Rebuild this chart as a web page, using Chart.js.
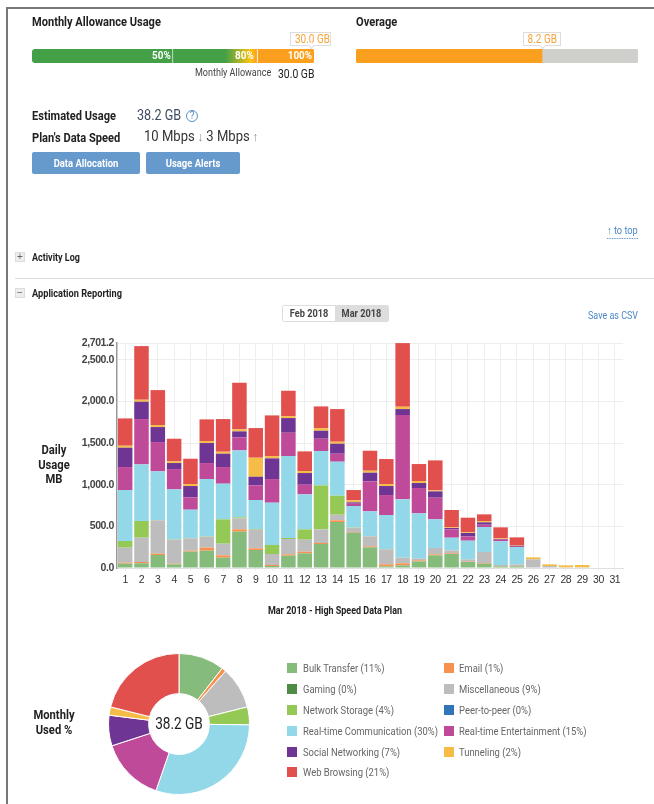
<!DOCTYPE html>
<html>
<head>
<meta charset="utf-8">
<title>Application Reporting</title>
<script src="https://cdn.jsdelivr.net/npm/chart.js@4"></script>
<style>
  html, body { margin: 0; padding: 0; background: #fff; }
  #page { position: relative; width: 654px; height: 804px; overflow: hidden; font-family: "Roboto", sans-serif; color: #222; filter: blur(0.35px); }
  #frame { position: absolute; left: 6px; top: 7px; width: 660px; height: 810px; border: 2px solid #777; box-sizing: border-box; }
  canvas { position: absolute; }
  /* the original font is a condensed one, squeeze Roboto to fit */
  .t { position: absolute; white-space: nowrap; line-height: 14px; transform: scaleX(var(--s, 0.82)); transform-origin: left center; }
  .c { transform-origin: center center; text-align: center; }
  .b { font-weight: bold; }
  .h { font-size: 13.5px; font-weight: bold; }
  .pct { color: #fff; font-size: 11px; font-weight: bold; top: 49px; --s: 0.9; transform-origin: right center; }
  .tip { position: absolute; top: 32px; height: 14px; border: 1px solid #ddd; box-sizing: border-box; background: #fff; }
  .tip::after { content: ""; position: absolute; left: 50%; bottom: -3px; width: 4px; height: 4px; margin-left: -2px; background: #fff; border-right: 1px solid #ddd; border-bottom: 1px solid #ddd; transform: rotate(45deg); }
  .tip .t { left: 0; right: 0; top: -1px; color: #f9a33b; font-size: 12.5px; --s: 0.8; }
  .btn { position: absolute; top: 152px; height: 22px; background: #6699cc; border-radius: 2px; }
  .btn .t { left: 0; right: 0; top: 4px; color: #fff; font-size: 11.5px; font-weight: bold; }
  .sq { position: absolute; width: 10px; height: 10px; left: 15px; background: #eee; border: 1px solid #ddd; box-sizing: border-box; color: #666; font: 10px/8px "Liberation Sans", sans-serif; text-align: center; }
  .side { left: 14px; width: 80px; font-size: 13.5px; font-weight: bold; line-height: 14.5px; --s: 0.83; }
  .swatch { position: absolute; width: 10px; height: 10px; }
  .leg { color: #666; font-size: 11.5px; }
</style>
</head>
<body>
<div id="page">
  <div id="frame"></div>

  <div class="t h" style="left:32px;top:14px">Monthly Allowance Usage</div>
  <div class="t h" style="left:356px;top:14px">Overage</div>
  <div class="tip" style="left:290px;width:41px"><div class="t c">30.0 GB</div></div>
  <div class="tip" style="left:523px;width:38px"><div class="t c">8.2 GB</div></div>
  <canvas id="gaugeAllowance" width="282" height="14" style="left:32px;top:49px"></canvas>
  <canvas id="gaugeOverage" width="282" height="14" style="left:356px;top:49px"></canvas>
  <div class="t pct" style="right:483px">50%</div>
  <div class="t pct" style="right:400px">80%</div>
  <div class="t pct" style="right:342px">100%</div>
  <div class="t" style="left:195px;top:66px;font-size:11px;color:#444">Monthly Allowance</div>
  <div class="t" style="left:278px;top:67px;font-size:13px;--s:0.8">30.0 GB</div>

  <div class="t h" style="left:32px;top:108px">Estimated Usage</div>
  <div class="t" style="left:137px;top:108px;font-size:14px;color:#3d4b5f;--s:0.9">38.2 GB</div>
  <div style="position:absolute;left:186px;top:110px;width:10px;height:10px;border:1px solid #5a8fc9;border-radius:50%;color:#5a8fc9;font-size:10px;line-height:10px;text-align:center">?</div>
  <div class="t h" style="left:32px;top:130px">Plan's Data Speed</div>
  <div class="t" style="left:144px;top:130px;font-size:14.5px;color:#333;--s:0.9">10 Mbps<span style="color:#888;font-size:13px"> ↓ </span>3 Mbps<span style="color:#888;font-size:13px"> ↑</span></div>
  <div class="btn" style="left:32px;width:108px"><div class="t c">Data Allocation</div></div>
  <div class="btn" style="left:146px;width:94px"><div class="t c">Usage Alerts</div></div>

  <div class="t" style="left:607px;top:224px;font-size:11px;color:#4d86c6;border-bottom:1px dotted #4d86c6;--s:0.84">↑ to top</div>
  <div class="sq" style="top:252px">+</div>
  <div class="t b" style="left:32px;top:250px;font-size:11.5px;--s:0.78">Activity Log</div>
  <div style="position:absolute;left:15px;top:278px;width:639px;height:1px;background:#ddd"></div>
  <div class="sq" style="top:288px">−</div>
  <div class="t b" style="left:32px;top:286px;font-size:11.5px;--s:0.8">Application Reporting</div>

  <div style="position:absolute;left:282px;top:305px;width:107px;height:17px;border:1px solid #ddd;box-sizing:border-box;border-radius:2px;background:#ddd"></div>
  <div style="position:absolute;left:283px;top:306px;width:52px;height:15px;background:#fff"></div>
  <div class="t b c" style="left:283px;top:306px;width:52px;font-size:11.5px;color:#444;--s:0.8">Feb 2018</div>
  <div class="t b c" style="left:335px;top:306px;width:53px;font-size:11.5px;color:#444;--s:0.8">Mar 2018</div>
  <div class="t" style="left:588px;top:308px;font-size:11.5px;color:#4d86c6;--s:0.78">Save as CSV</div>

  <div class="t c side" style="top:442px">Daily<br>Usage<br>MB</div>
  <canvas id="dailyChart" width="580" height="260" style="left:60px;top:330px"></canvas>
  <div class="t b c" style="left:235px;top:603px;width:200px;font-size:11.5px;--s:0.78">Mar 2018 - High Speed Data Plan</div>

  <div class="t c side" style="top:707px">Monthly<br>Used %</div>
  <canvas id="monthlyChart" width="150" height="150" style="left:104px;top:649px"></canvas>
  <div class="t c" style="left:139px;top:716px;width:80px;font-size:16px;line-height:16px;--s:0.85">38.2 GB</div>
  <div id="legend"></div>
</div>

<script>
const days = ["1","2","3","4","5","6","7","8","9","10","11","12","13","14","15","16","17","18","19","20","21","22","23","24","25","26","27","28","29","30","31"];
const yTicks = [0, 500, 1000, 1500, 2000, 2500, 2701.2];

// daily MB per application, bottom of the stack first
const bulkTransfer = [52,56,156,44,196,208,124,436,216,24,148,176,288,552,424,248,20,32,80,152,168,72,52,20,20,0,0,0,0,0,0];
const email = [12,16,16,8,12,36,28,28,20,12,16,20,12,20,8,12,24,24,12,12,8,4,8,4,4,0,0,0,0,0,0];
const gaming = new Array(31).fill(0);
const miscellaneous = [180,292,400,288,148,132,140,132,224,132,184,144,164,68,52,120,180,68,24,76,36,28,132,12,20,104,24,8,8,0,0];
const networkStorage = [80,200,4,4,4,4,292,12,8,108,12,124,528,228,4,4,4,0,0,0,0,0,0,0,0,0,0,0,0,0,0];
const peerToPeer = new Array(31).fill(0);
const realtimeComm = [612,680,584,600,340,688,428,804,348,508,984,420,412,408,256,296,408,700,540,344,152,224,300,284,208,0,0,0,0,0,0];
const realtimeEnt = [276,544,352,244,148,192,200,156,176,284,280,116,148,96,28,360,240,1012,304,260,100,52,28,20,12,0,0,0,0,0,0];
const socialNetworking = [232,208,180,72,136,240,160,72,104,248,176,140,96,120,16,104,108,72,60,76,16,40,28,8,4,0,0,0,0,0,0];
const tunneling = [24,24,24,20,24,24,24,24,228,28,24,24,32,24,24,24,24,28,24,12,8,8,16,8,8,24,20,24,28,0,0];
const webBrowsing = [328,644,420,272,304,260,392,560,356,488,304,236,260,392,124,240,300,764,204,360,208,176,80,132,92,0,0,0,0,0,0];

const appNames = ["Bulk Transfer","Email","Gaming","Miscellaneous","Network Storage","Peer-to-peer","Real-time Communication","Real-time Entertainment","Social Networking","Tunneling","Web Browsing"];
const appLabels = ["Bulk Transfer (11%)","Email (1%)","Gaming (0%)","Miscellaneous (9%)","Network Storage (4%)","Peer-to-peer (0%)","Real-time Communication (30%)","Real-time Entertainment (15%)","Social Networking (7%)","Tunneling (2%)","Web Browsing (21%)"];
const appColors = ["#85bb7b","#f79150","#4e8c45","#bdbdbd","#95c955","#3274b8","#92d8e8","#c04a9a","#6f3594","#f5bd48","#e2504e"];
const monthlyShare = [10.5,1,0,9.6,4.1,0,30.1,14.7,7,1.9,21.1];

// gauges
const allowanceSteps = [50, 30, 20];
const overageUsed = [8.2];
const overageLeft = [4.23];

const dailySeries = [bulkTransfer,email,gaming,miscellaneous,networkStorage,peerToPeer,realtimeComm,realtimeEnt,socialNetworking,tunneling,webBrowsing];

Chart.defaults.animation = false;
Chart.defaults.responsive = false;
Chart.defaults.plugins.legend.display = false;
Chart.defaults.plugins.tooltip.enabled = false;

function gaugeOptions(max) {
  return {
    indexAxis: 'y',
    layout: { padding: 0 },
    scales: {
      x: { stacked: true, display: false, min: 0, max: max },
      y: { stacked: true, display: false }
    }
  };
}

//green fades through yellow between 50 and 80
function fade(context) {
  const ctx = context.chart.ctx;
  const g = ctx.createLinearGradient(141, 0, 225, 0);
  g.addColorStop(0, '#43a047');
  g.addColorStop(0.62, '#43a047');
  g.addColorStop(0.92, '#f9c412');
  g.addColorStop(1, '#fba01e');
  return g;
}

new Chart(document.getElementById('gaugeAllowance'), {
  type: 'bar',
  data: {
    labels: ['Allowance'],
    datasets: [
      { data: [allowanceSteps[0]], backgroundColor: '#43a047', borderColor: '#e4f0e0', borderWidth: { right: 1 }, borderSkipped: false, borderRadius: { topLeft: 3, bottomLeft: 3 }, barPercentage: 1, categoryPercentage: 1 },
      { data: [allowanceSteps[1]], backgroundColor: fade, borderColor: '#fff4d0', borderWidth: { right: 1 }, borderSkipped: false, barPercentage: 1, categoryPercentage: 1 },
      { data: [allowanceSteps[2]], backgroundColor: '#fba01e', borderRadius: { topRight: 3, bottomRight: 3 }, borderSkipped: false, barPercentage: 1, categoryPercentage: 1 }
    ]
  },
  options: gaugeOptions(100)
});

new Chart(document.getElementById('gaugeOverage'), {
  type: 'bar',
  data: {
    labels: ['Overage'],
    datasets: [
      { data: overageUsed, backgroundColor: '#fba01e', borderRadius: { topLeft: 3, bottomLeft: 3 }, borderSkipped: false, barPercentage: 1, categoryPercentage: 1 },
      { data: overageLeft, backgroundColor: '#cfcfcc', borderRadius: { topRight: 3, bottomRight: 3 }, borderSkipped: false, barPercentage: 1, categoryPercentage: 1 }
    ]
  },
  options: gaugeOptions(overageUsed[0] + overageLeft[0])
});

//tick labels are narrow too
const tightLabels = {
  id: 'tightLabels',
  beforeDraw(chart) { chart.ctx.letterSpacing = '-0.4px'; }
};

new Chart(document.getElementById('dailyChart'), {
  type: 'bar',
  plugins: [tightLabels],
  data: {
    labels: days,
    datasets: dailySeries.map((values, i) => ({
      label: appNames[i],
      data: values,
      backgroundColor: appColors[i],
      borderWidth: 0,
      barPercentage: 0.89,
      categoryPercentage: 1
    }))
  },
  options: {
    layout: { padding: { top: 13, right: 17, bottom: 0, left: 0 } },
    scales: {
      x: {
        stacked: true,
        afterFit: (axis) => { axis.height = 22; },
        grid: { offset: false, color: '#eeeeee', drawTicks: true, tickLength: 3 },
        border: { color: '#e0e0e0' },
        ticks: { color: '#333', font: { size: 10.5, family: 'Liberation Sans' }, padding: 3, maxRotation: 0, autoSkip: false }
      },
      y: {
        stacked: true,
        min: 0,
        max: yTicks[yTicks.length - 1],
        afterFit: (axis) => { axis.width = 57; },
        afterBuildTicks: (axis) => { axis.ticks = yTicks.map(v => ({ value: v })); },
        grid: { color: '#eeeeee', drawTicks: false },
        border: { color: '#999', width: 1.5 },
        ticks: {
          color: '#444',
          padding: 3,
          font: { size: 10.5, weight: 'bold', family: 'Liberation Sans' },
          callback: (v) => Number(v).toLocaleString('en-US', { minimumFractionDigits: 1, maximumFractionDigits: 1 })
        }
      }
    }
  }
});

new Chart(document.getElementById('monthlyChart'), {
  type: 'doughnut',
  data: {
    labels: appNames,
    datasets: [{ data: monthlyShare, backgroundColor: appColors, borderColor: '#fff', borderWidth: 1 }]
  },
  options: { cutout: '43%', radius: 70.5, layout: { padding: 0 } }
});

//legend, two columns read left to right
const legend = document.getElementById('legend');
const legendRows = [668, 689, 710, 731, 752, 772];
appLabels.forEach((text, i) => {
  const row = legendRows[Math.floor(i / 2)];
  const col = i % 2;
  const sw = document.createElement('div');
  sw.className = 'swatch';
  sw.style.cssText = `left:${col ? 444 : 287}px;top:${row - 5}px;background:${appColors[i]}`;
  legend.appendChild(sw);
  const label = document.createElement('div');
  label.className = 't leg';
  label.textContent = text;
  label.style.cssText = `left:${col ? 459 : 303}px;top:${row - 7}px`;
  legend.appendChild(label);
});
</script>
</body>
</html>
